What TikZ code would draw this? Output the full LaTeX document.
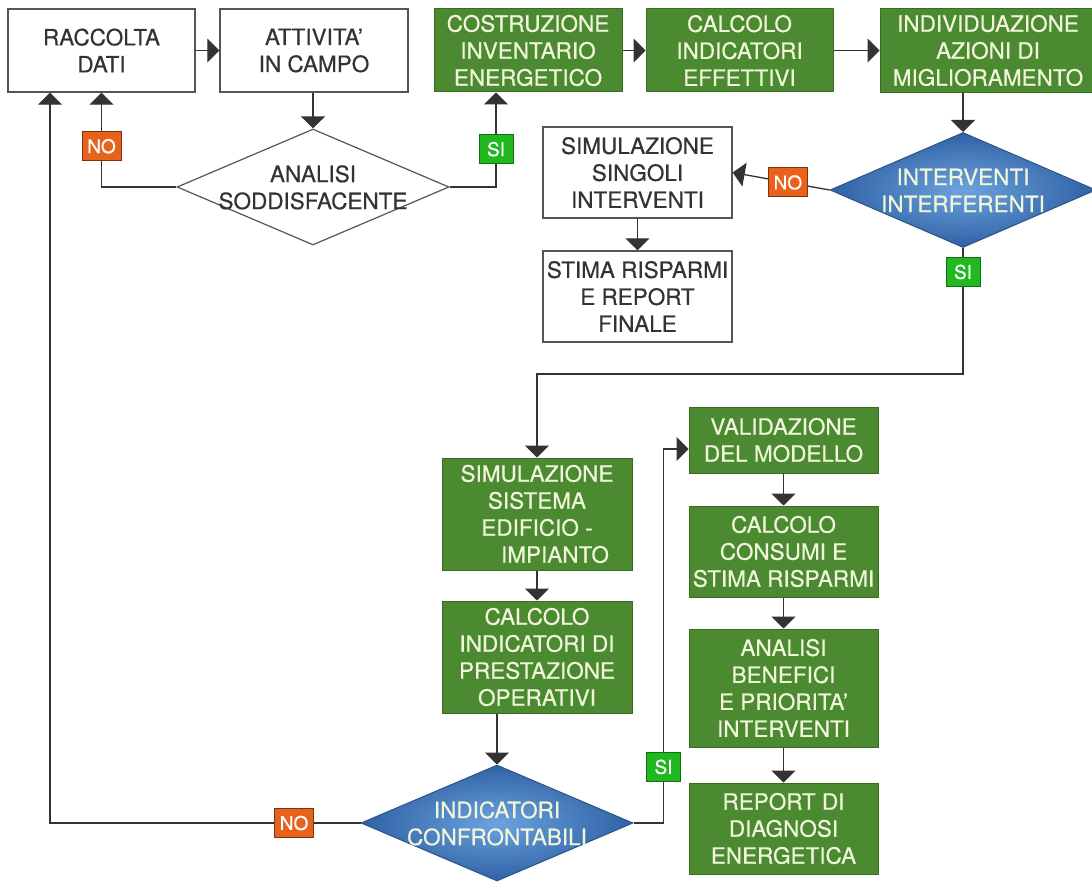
\documentclass[tikz,border=0pt]{standalone}
\usepackage{fontspec}
\setmainfont{TeX Gyre Heros}[FakeBold=0.5]
\usetikzlibrary{arrows.meta,shapes.geometric,calc}

\definecolor{gfill}{HTML}{4B8A31}
\definecolor{gdraw}{HTML}{3A6B25}
\definecolor{gtext}{HTML}{F0F6DA}
\definecolor{wtext}{HTML}{333333}
\definecolor{wdraw}{HTML}{555555}
\definecolor{lcol}{HTML}{333333}
\definecolor{binner}{HTML}{6CA2DE}
\definecolor{bouter}{HTML}{2F62A5}
\definecolor{bdraw}{HTML}{2B5486}
\definecolor{nofill}{HTML}{E8621C}
\definecolor{nodraw}{HTML}{7A3510}
\definecolor{sifill}{HTML}{1FB81F}
\definecolor{sidraw}{HTML}{136E13}

\newcommand{\dtxt}[1]{\makebox[0pt]{\raisebox{-8.4pt}[0pt][0pt]{\begin{tabular}{@{}c@{}}#1\end{tabular}}}}

\begin{document}
\begin{tikzpicture}[x=1pt,y=-1pt,
  every node/.style={font=\fontsize{22.5}{27}\selectfont},
  wbox/.style={draw=wdraw, line width=1.4pt, fill=white, text=wtext, align=center, inner sep=0pt},
  gbox/.style={draw=gdraw, line width=1pt, fill=gfill, text=gtext, align=center, inner sep=0pt},
  wdia/.style={diamond, draw=wdraw, line width=1.2pt, fill=white, text=wtext, inner sep=0pt},
  bdia/.style={diamond, draw=bdraw, line width=1pt, shade, inner color=binner, outer color=bouter, text=gtext, inner sep=0pt},
  lab/.style={font=\fontsize{19}{20}\selectfont, text=white, line width=1pt, minimum height=29pt, inner xsep=2pt, inner ysep=0pt},
  nolab/.style={lab, fill=nofill, draw=nodraw, minimum width=39pt},
  silab/.style={lab, fill=sifill, draw=sidraw, minimum width=34pt},
  conn/.style={draw=lcol, line width=1.3pt},
  arr/.style={conn, -{Triangle[width=24pt,length=12pt]}}
]
\useasboundingbox (0,0) rectangle (1092,882);

% top row
\node[wbox, minimum width=187pt, minimum height=83pt] (rd) at (101.5,50.5) {RACCOLTA\\DATI};
\node[wbox, minimum width=188pt, minimum height=83pt] (ac) at (314,50.5) {ATTIVITA'\\IN CAMPO};
\node[gbox, minimum width=188pt, minimum height=83pt] (ci) at (528,50.5) {COSTRUZIONE\\INVENTARIO\\ENERGETICO};
\node[gbox, minimum width=187pt, minimum height=83pt] (ce) at (739.5,50.5) {CALCOLO\\INDICATORI\\EFFETTIVI};
\node[gbox, minimum width=216pt, minimum height=84pt] (ia) at (988,50.5) {INDIVIDUAZIONE\\AZIONI DI\\MIGLIORAMENTO};

% diamonds
\node[wdia, minimum width=272pt, minimum height=116pt] (dA) at (313,187) {\dtxt{ANALISI\\SODDISFACENTE}};
\node[bdia, minimum width=266pt, minimum height=115pt] (dI) at (963,190) {\dtxt{INTERVENTI\\INTERFERENTI}};
\node[bdia, minimum width=272pt, minimum height=116pt] (dC) at (497,823) {\dtxt{INDICATORI\\CONFRONTABILI}};

% middle white boxes
\node[wbox, minimum width=189pt, minimum height=91pt] (s1) at (637.5,172.5) {SIMULAZIONE\\SINGOLI\\INTERVENTI};
\node[wbox, minimum width=189pt, minimum height=91pt] (st) at (637.5,296.5) {STIMA RISPARMI\\E REPORT\\FINALE};

% lower green boxes
\node[gbox, minimum width=190pt, minimum height=112pt] (ss) at (537,514) {SIMULAZIONE\\SISTEMA\\EDIFICIO -\hspace*{36pt}\\\hspace*{36pt}IMPIANTO};
\node[gbox, minimum width=190pt, minimum height=112pt] (cp) at (537,657) {CALCOLO\\INDICATORI DI\\PRESTAZIONE\\OPERATIVI};
\node[gbox, minimum width=189pt, minimum height=66pt] (vm) at (783.5,440) {VALIDAZIONE\\DEL MODELLO};
\node[gbox, minimum width=189pt, minimum height=91pt] (cc) at (783.5,551.5) {CALCOLO\\CONSUMI E\\STIMA RISPARMI};
\node[gbox, minimum width=189pt, minimum height=118pt] (ab) at (783.5,688) {ANALISI\\BENEFICI\\E PRIORITA'\\INTERVENTI};
\node[gbox, minimum width=189pt, minimum height=91pt] (rp) at (783.5,828.5) {REPORT DI\\DIAGNOSI\\ENERGETICA};

\coordinate (bend) at (750,374);

% connectors
\draw[arr] (rd.east) -- (ac.west);
\draw[arr] (ci.east) -- (ce.west);
\draw[arr] (ce.east) -- (ia.west);
\draw[arr] (dA.north |- ac.south) -- (dA.north);
\draw[arr] (dA.west) -| node[nolab, pos=0.716] {NO} (rd.south);
\draw[arr] (dA.east) -| node[silab, pos=0.70] {SI} ([xshift=-32pt]ci.south);
\draw[arr] (dI.north |- ia.south) -- (dI.north);
\draw[arr] (dI.west) -- node[nolab, pos=0.43] {NO} (s1.east);
\draw[arr] (s1.south) -- (st.north);
\draw[arr] (dI.south) -- node[silab, pos=0.19] {SI} (dI.south |- bend) -| (ss.north);
\draw[arr] (ss.south) -- (cp.north);
\draw[arr] (dC.north |- cp.south) -- (dC.north);
\draw[arr] (dC.west) -| node[nolab, pos=0.107] {NO} ([xshift=-51.5pt]rd.south);
\draw[arr] (dC.east) -- ++(30,0) |- node[silab, pos=0.075] {SI} ([yshift=-9pt]vm.west);
\draw[arr] (vm.south) -- (cc.north);
\draw[arr] (cc.south) -- (ab.north);
\draw[arr] (ab.south) -- (rp.north);
\end{tikzpicture}
\end{document}
